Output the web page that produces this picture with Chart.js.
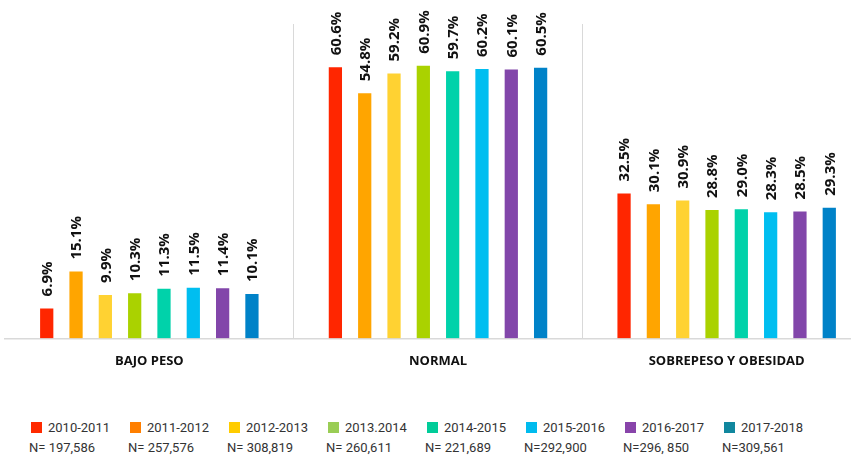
<!DOCTYPE html>
<html>
<head>
<meta charset="utf-8">
<script src="https://cdn.jsdelivr.net/npm/chart.js@4/dist/chart.umd.min.js"></script>
<style>
  body { margin: 0; background: #fff; overflow: hidden; width: 851px; height: 456px; }
  #wrap { position: relative; width: 875px; height: 384px; }
  #legend { position: absolute; left: 29px; top: 418px; display: flex; font-family: Roboto, sans-serif; font-size: 13px; color: #333; }
  #legend .item { width: 99px; }
  #legend .row1 { display: flex; align-items: center; height: 18px; }
  #legend .sw { width: 11px; height: 11px; margin: 0 6px 0 2px; }
  #legend .row2 { height: 20px; line-height: 20px; margin-top: 2px; }
</style>
</head>
<body>
<div id="wrap"><canvas id="cnv" width="875" height="384"></canvas></div>
<div id="legend"></div>
<script>
(function(){

    var categories = ["BAJO PESO", "NORMAL", "SOBREPESO Y OBESIDAD"];
    var periods = ["2010-2011", "2011-2012", "2012-2013", "2013.2014", "2014-2015", "2015-2016", "2016-2017", "2017-2018"];
    var sampleSizes = ["N= 197,586", "N= 257,576", "N= 308,819", "N= 260,611", "N= 221,689", "N=292,900", "N=296, 850", "N=309,561"];

    // one array per period: bajo peso, normal, sobrepeso y obesidad
    var v2010 = [6.9, 60.6, 32.5];
    var v2011 = [15.1, 54.8, 30.1];
    var v2012 = [9.9, 59.2, 30.9];
    var v2013 = [10.3, 60.9, 28.8];
    var v2014 = [11.3, 59.7, 29.0];
    var v2015 = [11.5, 60.2, 28.3];
    var v2016 = [11.4, 60.1, 28.5];
    var v2017 = [10.1, 60.5, 29.3];
    var values = [v2010, v2011, v2012, v2013, v2014, v2015, v2016, v2017];

    var barColors = ["#FF2600", "#FFA500", "#FFD232", "#AAD200", "#00D2AA", "#00BEF0", "#8246AA", "#0082C8"];
    var legendColors = ["#FF2A00", "#FF7F00", "#FFCC00", "#9ACD55", "#00CC99", "#00BBEE", "#8844AA", "#11879E"];

    var datasets = periods.map(function(p, i){
        return {
            label: p,
            data: values[i],
            backgroundColor: barColors[i],
            borderColor: "rgba(255,255,255,0.35)",
            borderWidth: 1,
            categoryPercentage: 0.8125,
            barPercentage: 0.52
        };
    });

    // rotated value labels above the bars
    var valueLabels = {
        id: "valueLabels",
        afterDatasetsDraw: function(chart){
            var ctx = chart.ctx;
            ctx.save();
            ctx.font = "bold 15px 'Open Sans', sans-serif";
            ctx.fillStyle = "#111";
            ctx.textAlign = "left";
            ctx.textBaseline = "middle";
            chart.data.datasets.forEach(function(ds, i){
                chart.getDatasetMeta(i).data.forEach(function(bar, j){
                    ctx.save();
                    ctx.translate(bar.x + 1, bar.y - 11);
                    ctx.rotate(-Math.PI / 2);
                    ctx.fillText(ds.data[j].toFixed(1) + "%", 0, 0);
                    ctx.restore();
                });
            });
            ctx.restore();
        }
    };

    var myChart = new Chart(document.getElementById("cnv"), {
        type: "bar",
        data: { labels: categories, datasets: datasets },
        options: {
            responsive: false,
            devicePixelRatio: 1,
            animation: false,
            layout: { padding: { left: 5, right: 4, top: 24, bottom: 0 } },
            plugins: { legend: { display: false }, tooltip: { enabled: false } },
            scales: {
                y: { display: false, min: 0, max: 70 },
                x: {
                    grid: {
                        drawTicks: false,
                        lineWidth: 1,
                        color: function(c){
                            return (c.type === "tick" && c.index > 0) ? "#d9d9d9" : "rgba(0,0,0,0)";
                        }
                    },
                    border: { color: "#d9d9d9", width: 1.5 },
                    ticks: {
                        padding: 15,
                        color: "#111",
                        font: { family: "'Open Sans', sans-serif", size: 13, weight: "bold" }
                    }
                }
            }
        },
        plugins: [valueLabels]
    });

    var leg = document.getElementById("legend");
    periods.forEach(function(p, i){
        var it = document.createElement("div");
        it.className = "item";
        it.innerHTML = '<div class="row1"><span class="sw" style="background:' + legendColors[i] + '"></span><span>' + p + '</span></div>' +
                       '<div class="row2">' + sampleSizes[i] + '</div>';
        leg.appendChild(it);
    });

})();
</script>
</body>
</html>
